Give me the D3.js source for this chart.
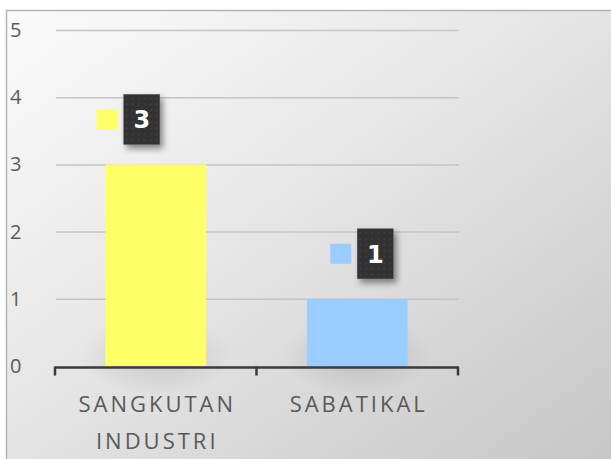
<!DOCTYPE html>
<html>
<head>
<meta charset="utf-8">
<script src="https://cdn.jsdelivr.net/npm/d3@7"></script>
<style>
  body { margin: 0; background: #fff; }
  svg { display: block; }
</style>
</head>
<body>
<svg width="611" height="459"></svg>
<script>
let categories = [["SANGKUTAN", "INDUSTRI"], ["SABATIKAL"]];  // category labels, split per line
let values = [3, 1];
let barColors = ["#ffff66", "#99ccff"];
let yTicks = [0, 1, 2, 3, 4, 5];

let svg = d3.select("svg");
let defs = svg.append("defs");

// background gradient, light top-left to grey bottom-right
let bg = defs.append("linearGradient")
	.attr("id", "bg")
	.attr("x1", "0%").attr("y1", "0%")
	.attr("x2", "100%").attr("y2", "100%");
bg.append("stop").attr("offset", "0%").attr("stop-color", "#fbfbfb");
bg.append("stop").attr("offset", "45%").attr("stop-color", "#e6e6e6");
bg.append("stop").attr("offset", "100%").attr("stop-color", "#c6c6c6");

let shadow = defs.append("filter")
	.attr("id", "shadow")
	.attr("x", "-50%").attr("y", "-50%")
	.attr("width", "200%").attr("height", "200%");
shadow.append("feDropShadow")
	.attr("dx", 3).attr("dy", 4)
	.attr("stdDeviation", 3)
	.attr("flood-color", "#000")
	.attr("flood-opacity", 0.45);

let dots = defs.append("pattern")
	.attr("id", "dots")
	.attr("width", 6).attr("height", 6)
	.attr("patternUnits", "userSpaceOnUse");
dots.append("rect").attr("width", 6).attr("height", 6).attr("fill", "#333333");
dots.append("circle").attr("cx", 3).attr("cy", 3).attr("r", 0.8).attr("fill", "#4a4a4a");

svg.append("rect")
	.attr("x", 6.5).attr("y", 10.5)
	.attr("width", 610).attr("height", 450)
	.attr("fill", "url(#bg)")
	.attr("stroke", "#b4b4b4")
	.attr("stroke-width", 1.5);

let plotLeft = 55, plotRight = 458;

let x = d3.scaleBand()
	.domain(d3.range(values.length))
	.range([plotLeft, plotRight])
	.paddingInner(0.5)
	.paddingOuter(0.25);

let y = d3.scaleLinear()
	.domain([0, 5])
	.range([366, 30]);

// gridlines
svg.append("g")
	.selectAll("line")
	.data(yTicks.filter(d => d > 0))
	.enter()
	.append("line")
	.attr("x1", plotLeft + 1)
	.attr("x2", plotRight + 1)
	.attr("y1", d => y(d) + 0.5)
	.attr("y2", d => y(d) + 0.5)
	.attr("stroke", "#c4c4c4")
	.attr("stroke-width", 1.5);

// y tick labels
svg.append("g")
	.selectAll("text")
	.data(yTicks)
	.enter()
	.append("text")
	.attr("x", 10)
	.attr("y", d => y(d) + 7)
	.attr("font-family", "'Open Sans', sans-serif")
	.attr("font-size", 20)
	.attr("fill", "#5a5a5a")
	.text(d => d);

// soft shadow at the foot of each bar
let foot = defs.append("radialGradient").attr("id", "foot");
foot.append("stop").attr("offset", "0%").attr("stop-color", "#000").attr("stop-opacity", 0.12);
foot.append("stop").attr("offset", "100%").attr("stop-color", "#000").attr("stop-opacity", 0);

svg.append("g")
	.selectAll("ellipse")
	.data(values)
	.enter()
	.append("ellipse")
	.attr("cx", (d, i) => x(i) + x.bandwidth() / 2)
	.attr("cy", y(0) - 10)
	.attr("rx", x.bandwidth() * 0.75)
	.attr("ry", 40)
	.attr("fill", "url(#foot)");

// bars
svg.append("g")
	.selectAll("rect")
	.data(values)
	.enter()
	.append("rect")
	.attr("x", (d, i) => x(i))
	.attr("y", d => y(d))
	.attr("width", x.bandwidth())
	.attr("height", d => y(0) - y(d))
	.attr("fill", (d, i) => barColors[i]);

// x axis with bracket ticks
let axis = svg.append("g")
	.attr("transform", `translate(0, ${y(0) + 1.5})`);
axis.append("line")
	.attr("x1", plotLeft).attr("x2", plotRight)
	.attr("stroke", "#3a3a3a").attr("stroke-width", 2.5);
let edges = d3.range(values.length).map(i => x(i) - x.step() * x.paddingInner() / 2);
edges.push(plotRight);
edges[0] = plotLeft;
axis.selectAll(".tick")
	.data(edges)
	.enter()
	.append("line")
	.attr("class", "tick")
	.attr("x1", d => d).attr("x2", d => d)
	.attr("y1", -1).attr("y2", 8)
	.attr("stroke", "#3a3a3a").attr("stroke-width", 2.5);

// category labels
let catText = svg.append("g")
	.selectAll("text")
	.data(categories)
	.enter()
	.append("text")
	.attr("x", (d, i) => x(i) + x.bandwidth() / 2 + 1.5)
	.attr("y", 412)
	.attr("text-anchor", "middle")
	.attr("font-family", "'Open Sans', sans-serif")
	.attr("font-size", 22)
	.attr("letter-spacing", 3)
	.attr("fill", "#595959");
catText.selectAll("tspan")
	.data(d => d)
	.enter()
	.append("tspan")
	.attr("x", function(){ return d3.select(this.parentNode).attr("x"); })
	.attr("dy", (d, i) => i === 0 ? 0 : 37)
	.text(d => d);

// data labels: colour key square plus dark box with value
let labelShift = [-32, 0];  // excel placed the two labels differently
let labels = svg.append("g")
	.selectAll("g")
	.data(values)
	.enter()
	.append("g")
	.attr("transform", (d, i) => `translate(${x(i) + x.bandwidth() / 2 + labelShift[i]}, ${y(d) - 45})`);

labels.append("rect")
	.attr("x", -27).attr("y", -10)
	.attr("width", 21).attr("height", 20)
	.attr("fill", (d, i) => barColors[i]);

labels.append("rect")
	.attr("x", 0).attr("y", -25)
	.attr("width", 36).attr("height", 50)
	.attr("fill", "url(#dots)")
	.attr("stroke", "#555")
	.attr("stroke-width", 0.5)
	.attr("filter", "url(#shadow)");

labels.append("text")
	.attr("x", 18).attr("y", 9)
	.attr("text-anchor", "middle")
	.attr("font-family", "'DejaVu Sans', sans-serif")
	.attr("font-weight", "bold")
	.attr("font-size", 24)
	.attr("fill", "#fff")
	.text(d => d);
</script>
</body>
</html>
